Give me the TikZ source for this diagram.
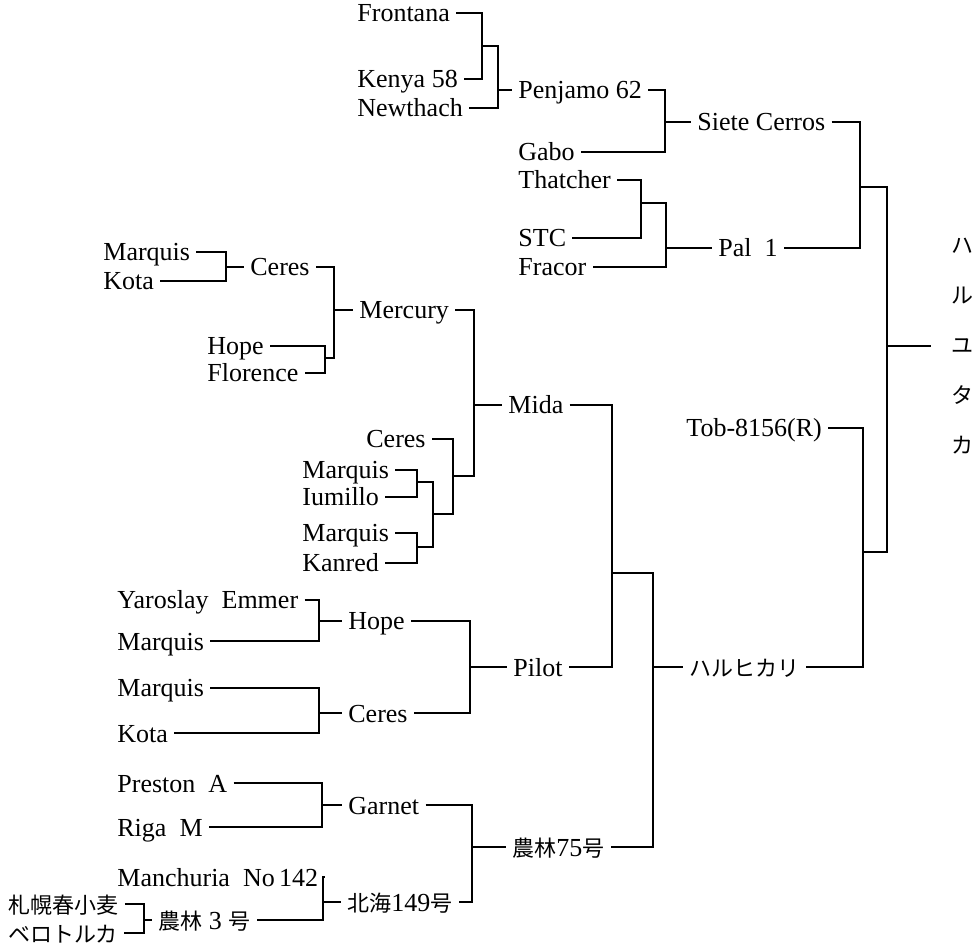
\documentclass[tikz,border=0pt]{standalone}
\usepackage{fontspec}
\setmainfont{Liberation Serif}
\newfontfamily\jp{Noto Sans CJK JP}
\newcommand\jpt[1]{{\jp\fontsize{11}{13}\selectfont #1}}

\begin{document}
\begin{tikzpicture}[
  x=0.5pt,y=-0.5pt,
  cv/.style={anchor=west,inner sep=3pt,text height=9pt,text depth=0pt,font=\fontsize{13}{15}\selectfont},
  link/.style={line width=0.9pt}
]
\useasboundingbox (0,0) rectangle (979,945);
\node[cv] (frontana) at (351,13) {Frontana};
\node[cv] (kenya) at (351,79) {Kenya 58};
\node[cv] (newthach) at (351,108) {Newthach};
\node[cv] (penjamo) at (512,90) {Penjamo 62};
\node[cv] (gabo) at (512,152) {Gabo};
\node[cv] (siete) at (691,122) {Siete Cerros};
\node[cv] (thatcher) at (512,180) {Thatcher};
\node[cv] (stc) at (512,238) {STC};
\node[cv] (fracor) at (512,267) {Fracor};
\node[cv] (pal) at (712,248) {Pal\enspace 1};
\node[anchor=center,align=center,inner xsep=10pt,inner ysep=3pt,
      font=\jp\fontsize{11}{25}\selectfont] (haruyutaka) at (962,346) {ハ\\ル\\ユ\\タ\\カ};
\node[cv] (marquisA) at (97,252) {Marquis};
\node[cv] (kotaA) at (97,281) {Kota};
\node[cv] (ceresA) at (244,267) {Ceres};
\node[cv] (hopeA) at (201,346) {Hope};
\node[cv] (florence) at (201,373) {Florence};
\node[cv] (mercury) at (353,310) {Mercury};
\node[cv] (ceresB) at (360,439) {Ceres};
\node[cv] (marquisB) at (296,470) {Marquis};
\node[cv] (iumillo) at (296,497) {Iumillo};
\node[cv] (marquisC) at (296,533) {Marquis};
\node[cv] (kanred) at (296,563) {Kanred};
\node[cv] (mida) at (502,405) {Mida};
\node[cv] (tob) at (680,428) {Tob-8156(R)};
\node[cv] (yaroslay) at (111,600) {Yaroslay\enspace Emmer};
\node[cv] (marquisD) at (111,641) {Marquis};
\node[cv] (hopeB) at (342,621) {Hope};
\node[cv] (marquisE) at (111,688) {Marquis};
\node[cv] (kotaB) at (111,733) {Kota};
\node[cv] (ceresC) at (342,713) {Ceres};
\node[cv] (pilot) at (507,667) {Pilot};
\node[cv] (harukari) at (683,667) {\jpt{ハルヒカリ}};
\node[cv] (preston) at (111,783) {Preston\enspace A};
\node[cv] (riga) at (111,827) {Riga\enspace M};
\node[cv] (garnet) at (342,805) {Garnet};
\node[cv] (manchuria) at (111,877) {Manchuria\enspace No\,142};
\node[cv] (sapporo) at (2,904) {\jpt{札幌春小麦}};
\node[cv] (berotoruka) at (2,933) {\jpt{ベロトルカ}};
\node[cv] (norin3) at (152,920) {\jpt{農林} 3 \jpt{号}};
\node[cv] (hokkai) at (341,902) {\jpt{北海}149\jpt{号}};
\node[cv] (norin75) at (506,847) {\jpt{農林}75\jpt{号}};

\coordinate (fk) at (482,46);
\coordinate (fkn) at (498,90);
\coordinate (pg) at (665,122);
\coordinate (ts) at (641,203);
\coordinate (tsf) at (666,248);
\coordinate (sp) at (860,187);
\coordinate (top) at (887,346);
\coordinate (th) at (863,552);
\draw[link] (frontana) -| (fk) |- (kenya);
\draw[link] (fk) -| (fkn) |- (newthach);
\draw[link] (fkn) -- (penjamo);
\draw[link] (penjamo) -| (pg) |- (gabo);
\draw[link] (pg) -- (siete);
\draw[link] (thatcher) -| (ts) |- (stc);
\draw[link] (ts) -| (tsf) |- (fracor);
\draw[link] (tsf) -- (pal);
\draw[link] (siete) -| (sp) |- (pal);
\draw[link] (sp) -| (top) |- (th);
\draw[link] (top) -- (haruyutaka);
\draw[link] (tob) -| (th) |- (harukari);

\coordinate (mk) at (226,267);
\coordinate (hf) at (325,358);
\coordinate (me) at (334,310);
\coordinate (mi) at (417,482);
\coordinate (mk2) at (417,547);
\coordinate (mm) at (433,514);
\coordinate (cm) at (453,476);
\coordinate (md) at (474,405);
\draw[link] (marquisA) -| (mk) |- (kotaA);
\draw[link] (mk) -- (ceresA);
\draw[link] (hopeA) -| (hf) |- (florence);
\draw[link] (ceresA) -| (me) |- (hf);
\draw[link] (me) -- (mercury);
\draw[link] (marquisB) -| (mi) |- (iumillo);
\draw[link] (marquisC) -| (mk2) |- (kanred);
\draw[link] (mi) -| (mm) |- (mk2);
\draw[link] (ceresB) -| (cm) |- (mm);
\draw[link] (mercury) -| (md) |- (cm);
\draw[link] (md) -- (mida);

\coordinate (ym) at (319,621);
\coordinate (mk3) at (319,713);
\coordinate (hc) at (470,667);
\coordinate (mp) at (612,573);
\coordinate (mn) at (653,667);
\draw[link] (yaroslay) -| (ym) |- (marquisD);
\draw[link] (ym) -- (hopeB);
\draw[link] (marquisE) -| (mk3) |- (kotaB);
\draw[link] (mk3) -- (ceresC);
\draw[link] (hopeB) -| (hc) |- (ceresC);
\draw[link] (hc) -- (pilot);
\draw[link] (mida) -| (mp) |- (pilot);
\draw[link] (mp) -| (mn) |- (norin75);
\draw[link] (mn) -- (harukari);

\coordinate (pr) at (322,805);
\coordinate (sb) at (144,920);
\coordinate (mn3) at (323,902);
\coordinate (gh) at (472,847);
\draw[link] (preston) -| (pr) |- (riga);
\draw[link] (pr) -- (garnet);
\draw[link] (sapporo) -| (sb) |- (berotoruka);
\draw[link] (sb) -- (norin3);
\draw[link] (manchuria) -| (mn3) |- (norin3);
\draw[link] (mn3) -- (hokkai);
\draw[link] (garnet) -| (gh) |- (hokkai);
\draw[link] (gh) -- (norin75);
\end{tikzpicture}
\end{document}
